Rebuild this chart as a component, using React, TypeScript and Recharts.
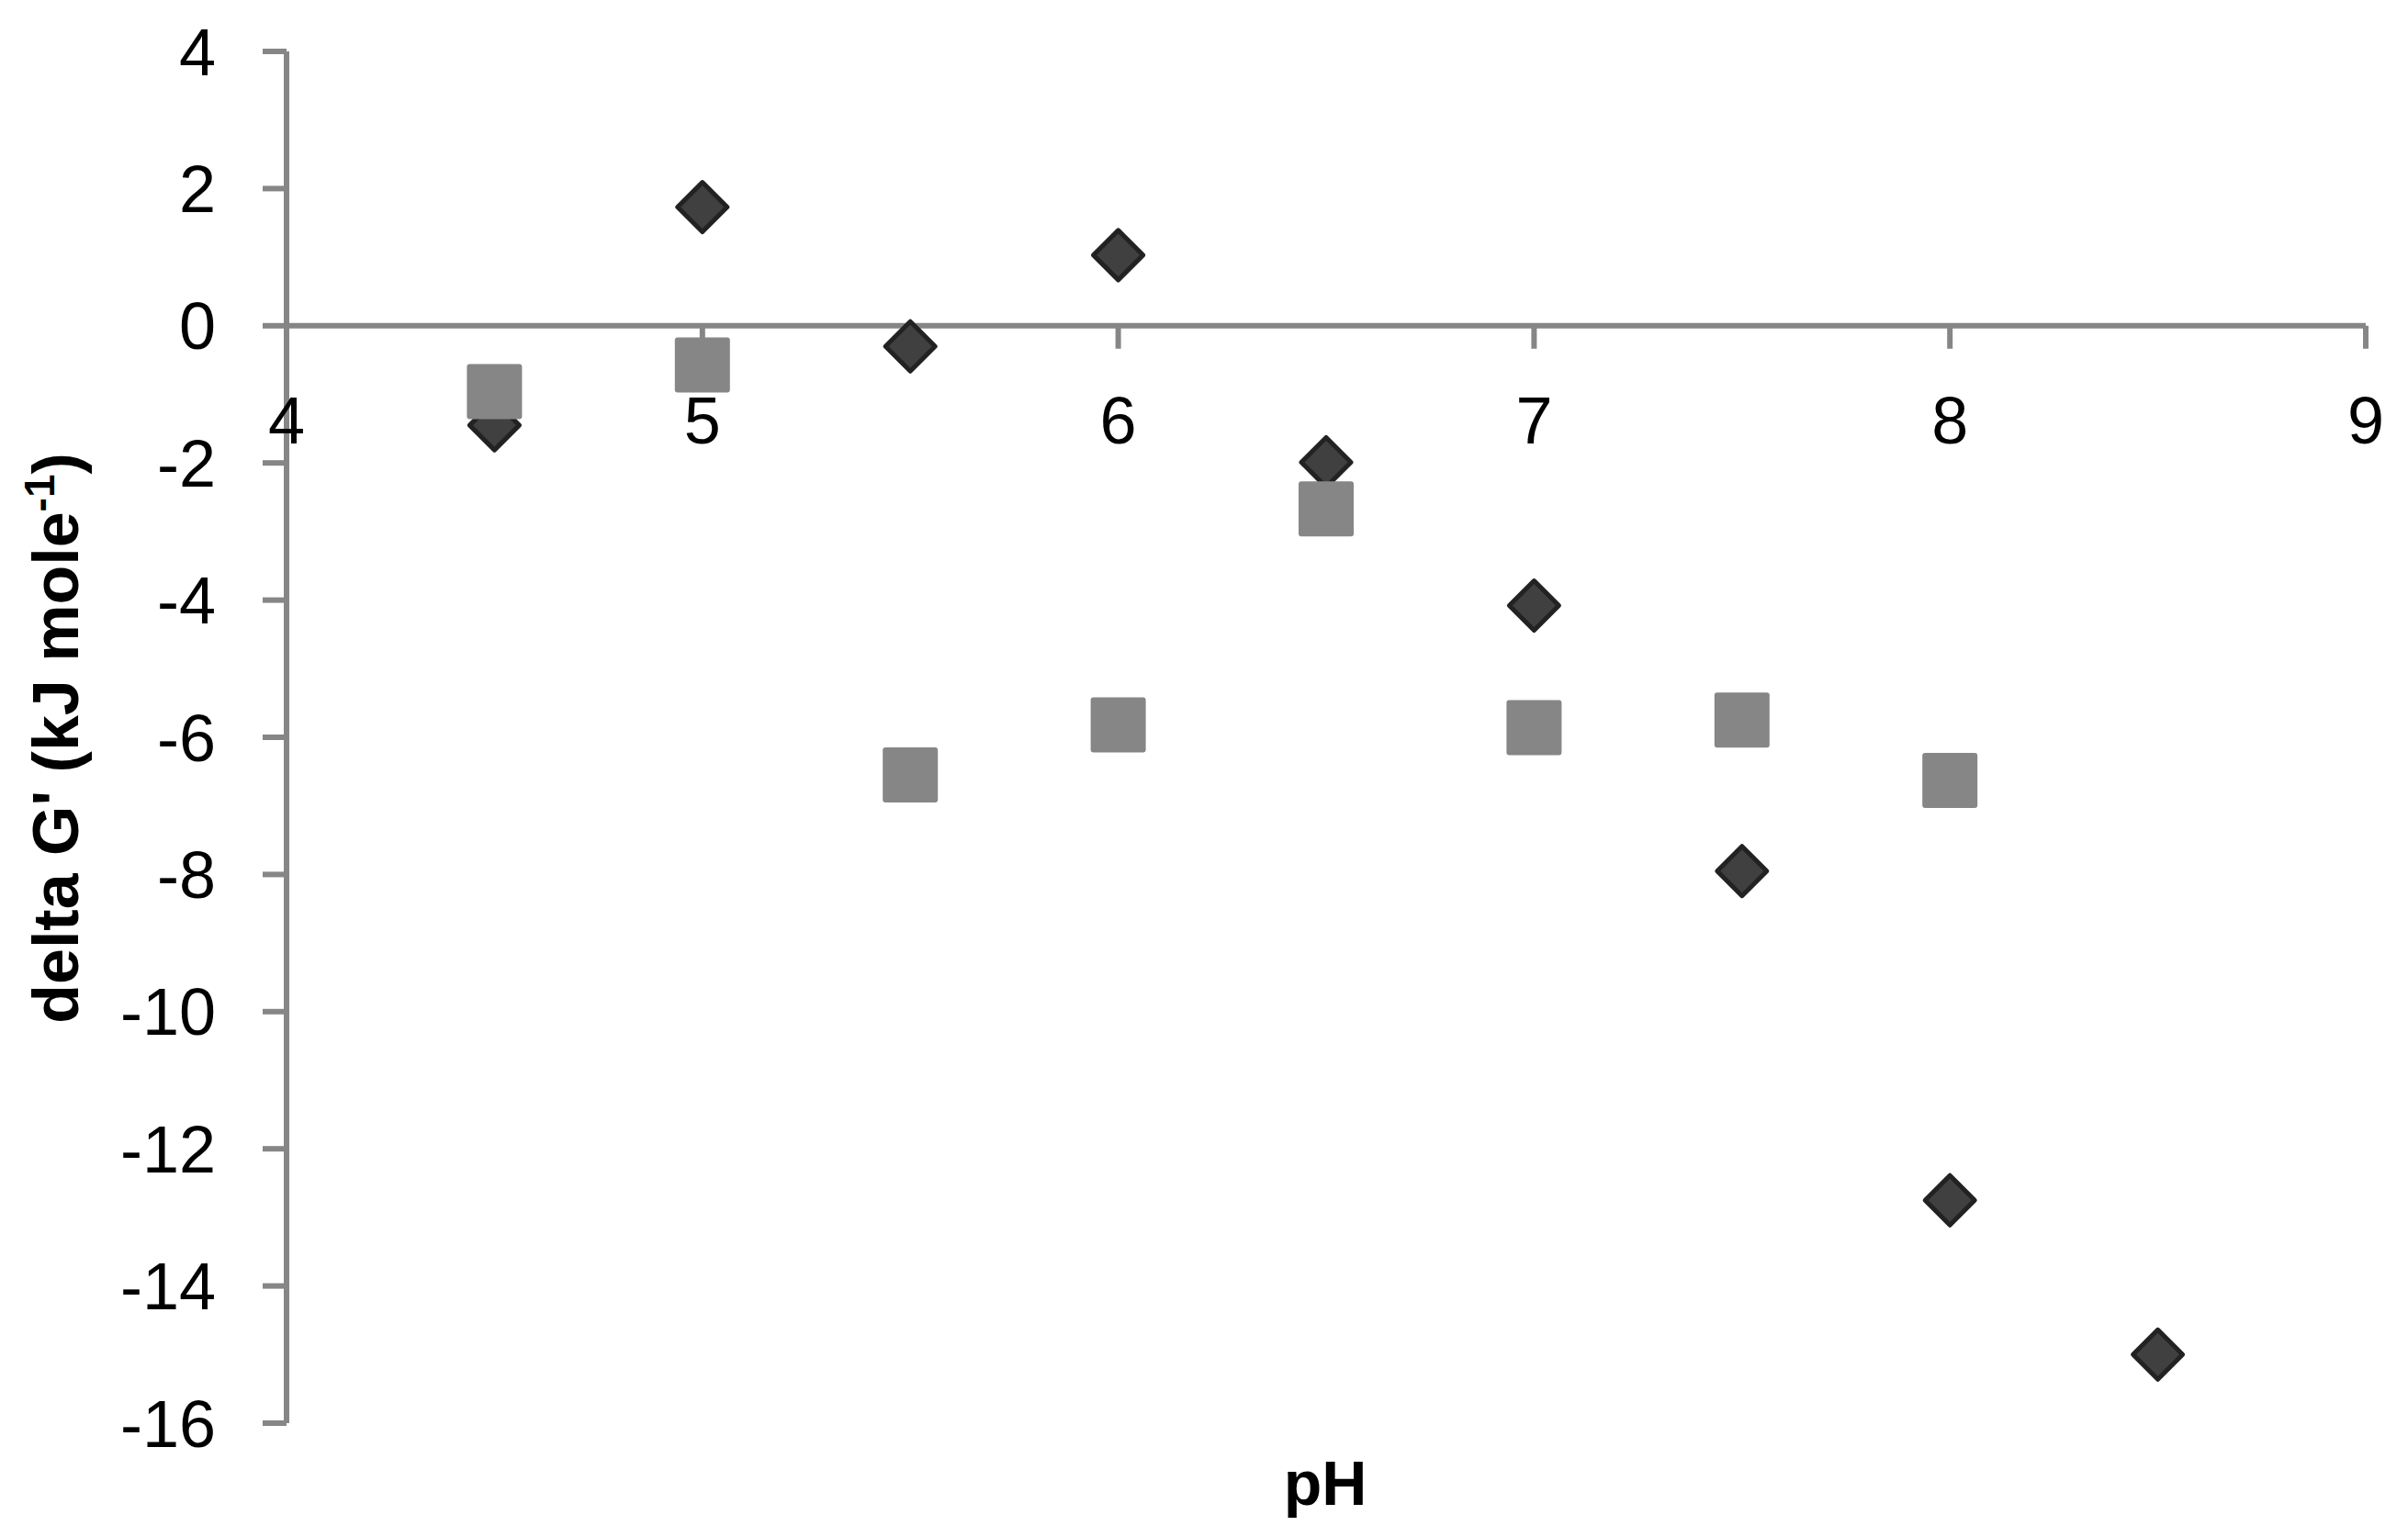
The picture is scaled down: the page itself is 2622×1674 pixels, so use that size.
import React from "react";
import {
  ScatterChart,
  Scatter,
  XAxis,
  YAxis,
  ReferenceLine,
  ReferenceDot,
} from "recharts";

// axis ticks
const phTicks = [4, 5, 6, 7, 8, 9];
const dgTicks = [4, 2, 0, -2, -4, -6, -8, -10, -12, -14, -16];

// dark diamonds
const diamondPh = [4.5, 5, 5.5, 6, 6.5, 7, 7.5, 8, 8.5];
const diamondDg = [-1.45, 1.73, -0.3, 1.03, -1.99, -4.08, -7.95, -12.75, -15.0];

// grey squares
const squarePh = [4.5, 5, 5.5, 6, 6.5, 7, 7.5, 8];
const squareDg = [-0.96, -0.57, -6.55, -5.82, -2.67, -5.86, -5.75, -6.63];

const diamondData = diamondPh.map((x, i) => ({ x, y: diamondDg[i] }));
const squareData = squarePh.map((x, i) => ({ x, y: squareDg[i] }));

const AXIS = "#868686";
const FONT = "'Liberation Sans', Arial, sans-serif";

const Diamond = (props: any) => {
  const { cx, cy } = props;
  const r = 27;
  return (
    <polygon
      points={`${cx},${cy - r} ${cx + r},${cy} ${cx},${cy + r} ${cx - r},${cy}`}
      fill="#404040"
      stroke="#222222"
      strokeWidth={5}
      strokeLinejoin="round"
    />
  );
};

const Square = (props: any) => {
  const { cx, cy } = props;
  return (
    <rect x={cx - 30} y={cy - 30} width={60} height={60} rx={3} fill={AXIS} />
  );
};

// x axis sits on y = 0, so ticks and labels hang off that line
const xTick = (v: number) => (p: any) => (
  <g>
    <line x1={p.cx} y1={p.cy} x2={p.cx} y2={p.cy + 25} stroke={AXIS} strokeWidth={6} />
    <text
      x={p.cx}
      y={p.cy + 128}
      textAnchor="middle"
      fontFamily={FONT}
      fontSize={72}
      fill="#000"
    >
      {v}
    </text>
  </g>
);

const YTitle = () => (
  <text
    x={77}
    y={796}
    transform="rotate(-90, 77, 796)"
    textAnchor="middle"
    fontFamily={FONT}
    fontWeight="bold"
    fontSize={70}
    fill="#000"
  >
    delta G' (kJ mole
    <tspan dy={-26} fontSize={46}>
      -1
    </tspan>
    <tspan dy={26}>)</tspan>
  </text>
);

const XTitle = () => (
  <text
    x={1435}
    y={1631}
    textAnchor="middle"
    fontFamily={FONT}
    fontWeight="bold"
    fontSize={68}
    fill="#000"
  >
    pH
  </text>
);

function App() {
  return (
    <div style={{ width: 2606, height: 1658 }}>
      <ScatterChart
        width={2606}
        height={1658}
        margin={{ top: 48, right: 38, bottom: 0, left: 0 }}
      >
        <XAxis
          type="number"
          dataKey="x"
          domain={[4, 9]}
          ticks={phTicks}
          axisLine={false}
          tickLine={false}
          tick={false}
          height={116}
          label={{ content: XTitle }}
        />
        <YAxis
          type="number"
          dataKey="y"
          domain={[-16, 4]}
          ticks={dgTicks}
          interval={0}
          width={304}
          tickSize={26}
          tickMargin={51}
          axisLine={{ stroke: AXIS, strokeWidth: 6 }}
          tickLine={{ stroke: AXIS, strokeWidth: 6 }}
          tick={{ fill: "#000", fontSize: 72, fontFamily: FONT }}
          label={{ content: YTitle }}
        />
        <ReferenceLine y={0} stroke={AXIS} strokeWidth={6} />
        {phTicks.map((v) => (
          <ReferenceDot key={v} x={v} y={0} r={1} shape={xTick(v)} />
        ))}
        <Scatter
          data={diamondData}
          shape={Diamond}
          isAnimationActive={false}
        />
        <Scatter data={squareData} shape={Square} isAnimationActive={false} />
      </ScatterChart>
    </div>
  );
}

export default App;
